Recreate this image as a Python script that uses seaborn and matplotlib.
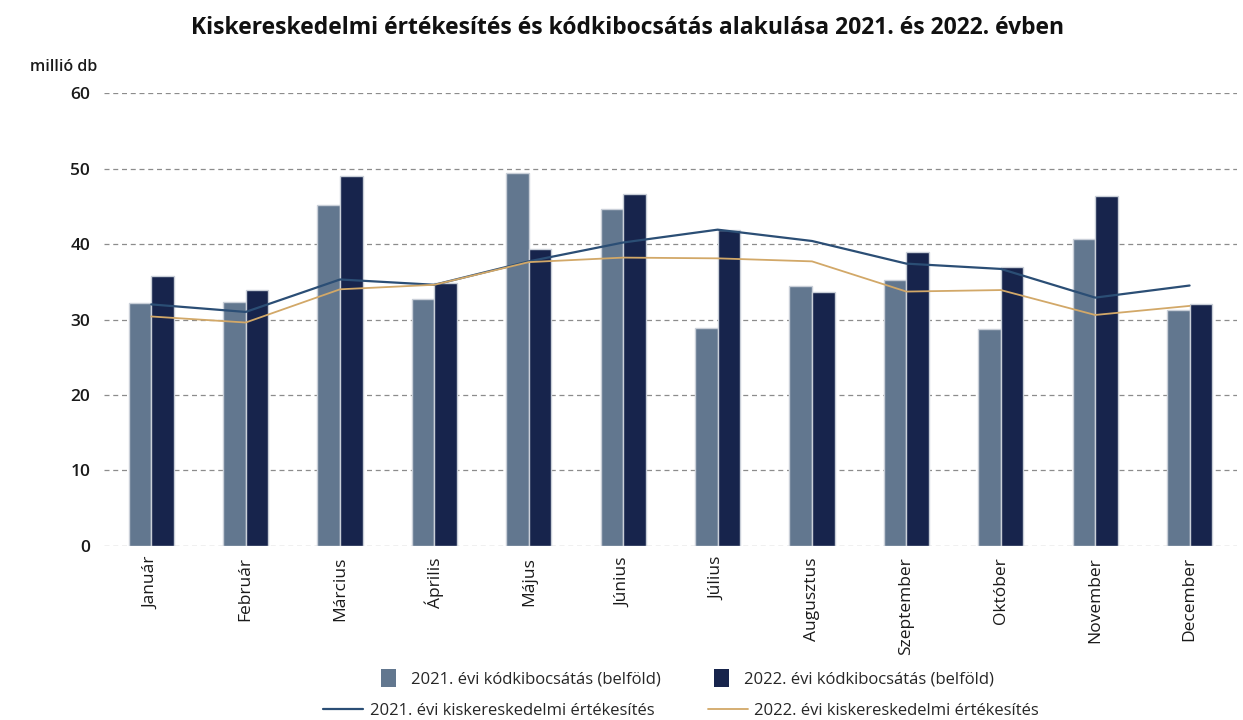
import numpy as np
import pandas as pd
import seaborn as sns
import matplotlib.pyplot as plt
from matplotlib.patches import Patch
from matplotlib.lines import Line2D

months = ['Január', 'Február', 'Március', 'Április', 'Május', 'Június',
          'Július', 'Augusztus', 'Szeptember', 'Október', 'November', 'December']

kod_2021 = [32.2, 32.3, 45.2, 32.7, 49.4, 44.6, 28.9, 34.5, 35.2, 28.7, 40.7, 31.3]
kod_2022 = [35.7, 33.9, 49.0, 34.8, 39.3, 46.6, 41.8, 33.6, 38.9, 36.9, 46.4, 32.1]
kisker_2021 = [32.0, 31.0, 35.3, 34.6, 37.7, 40.2, 41.9, 40.4, 37.4, 36.7, 32.9, 34.5]
kisker_2022 = [30.4, 29.6, 34.0, 34.6, 37.6, 38.2, 38.1, 37.7, 33.7, 33.9, 30.6, 31.8]

bar_labels = ['2021. évi kódkibocsátás (belföld)', '2022. évi kódkibocsátás (belföld)']
line_labels = ['2021. évi kiskereskedelmi értékesítés', '2022. évi kiskereskedelmi értékesítés']

c_light = '#62778f'
c_dark = '#17244c'
c_blue = '#2b4e75'
c_gold = '#d2a868'

sns.set_style('white')
plt.rcParams['font.family'] = ['Open Sans', 'DejaVu Sans']

df = pd.DataFrame({
    'month': months * 2,
    'value': kod_2021 + kod_2022,
    'series': [bar_labels[0]] * 12 + [bar_labels[1]] * 12,
})

fig = plt.figure(figsize=(12.43, 7.2), dpi=100)
ax = fig.add_axes([0.0837, 0.2417, 0.9113, 0.6291])

sns.barplot(data=df, x='month', y='value', hue='series', order=months,
            hue_order=bar_labels, palette=[c_light, c_dark], width=0.48,
            edgecolor='#c9cfd8', linewidth=1, saturation=1, legend=False, ax=ax)

x = np.arange(len(months))
sns.lineplot(x=x, y=kisker_2021, color=c_blue, linewidth=1.6, ax=ax)
sns.lineplot(x=x, y=kisker_2022, color=c_gold, linewidth=1.3, ax=ax)

ax.set_xlim(-0.5, 11.5)
ax.set_ylim(0, 60)
ax.set_yticks(range(0, 61, 10))
ax.yaxis.grid(True, linestyle=(0, (4, 3)), color='#8c8c8c', linewidth=0.9)
ax.set_axisbelow(True)
for s in ax.spines.values():
    s.set_visible(False)
ax.tick_params(axis='y', length=0, pad=10, labelsize=12.5, labelcolor='#1a1a1a')
ax.tick_params(axis='x', length=0, pad=8, labelsize=12.5, labelcolor='#1a1a1a')
ax.set_xticks(x)
ax.set_xticklabels(months, rotation=90, va='top', ha='center')
for lab in ax.get_yticklabels():
    lab.set_fontweight('semibold')
ax.set_xlabel('')
ax.set_ylabel('')

fig.text(0.024, 0.907, 'millió db', fontsize=11.5, fontweight='semibold', color='#1a1a1a',
         ha='left', va='center')
fig.suptitle('Kiskereskedelmi értékesítés és kódkibocsátás alakulása 2021. és 2022. évben',
             x=0.505, y=0.978, fontsize=16.5, fontweight='bold', color='#111111')

bar_handles = [Patch(facecolor=c_light, edgecolor='none'), Patch(facecolor=c_dark, edgecolor='none')]
fig.legend(bar_handles, bar_labels, loc='center', bbox_to_anchor=(0.553, 0.058),
           ncol=2, frameon=False, fontsize=12, handlelength=0.9, handleheight=1.3,
           handletextpad=0.9, columnspacing=3.2)
line_handles = [Line2D([], [], color=c_blue, linewidth=1.6), Line2D([], [], color=c_gold, linewidth=1.3)]
fig.legend(line_handles, line_labels, loc='center', bbox_to_anchor=(0.548, 0.013),
           ncol=2, frameon=False, fontsize=12, handlelength=2.4,
           handletextpad=0.4, columnspacing=3.2)

fig.savefig('out.png', dpi=100)
